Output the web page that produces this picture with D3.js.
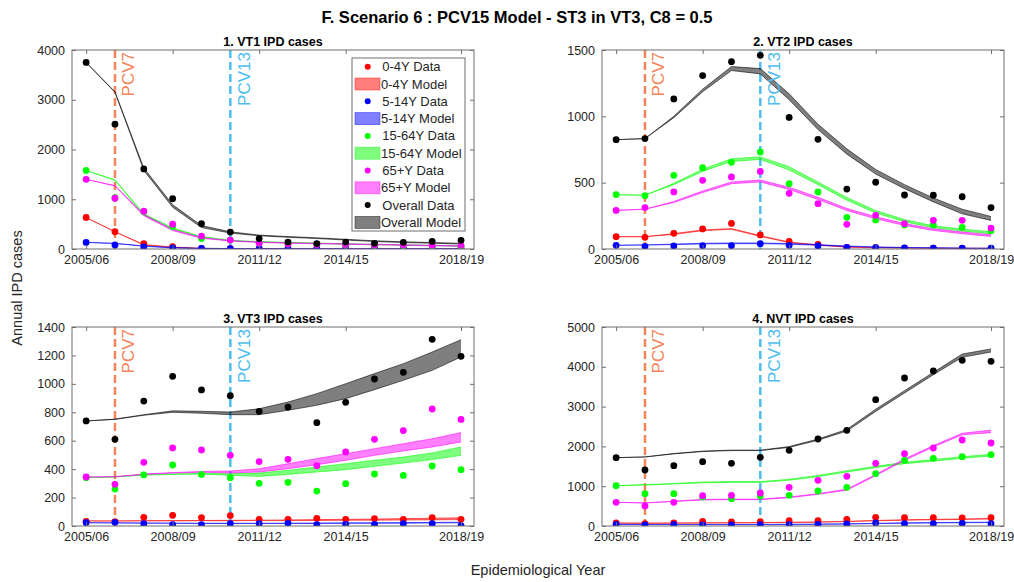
<!DOCTYPE html>
<html><head><meta charset="utf-8">
<script src="https://cdn.jsdelivr.net/npm/d3@7"></script>
<style>body{margin:0;background:#fff} text{font-family:"Liberation Sans",Arial,Helvetica,sans-serif}</style>
</head><body><svg id="c" width="1014" height="582"></svg>
<script>
// ---------- data ----------
const years = ["2005/06","2006/07","2007/08","2008/09","2009/10","2010/11","2011/12","2012/13","2013/14","2014/15","2015/16","2016/17","2017/18","2018/19"];
const xTickYears = ["2005/06","2008/09","2011/12","2014/15","2018/19"];
const panelTitles = ["1. VT1 IPD cases","2. VT2 IPD cases","3. VT3 IPD cases","4. NVT IPD cases"];
const yTicks1 = [0,1000,2000,3000,4000];
const yTicks2 = [0,500,1000,1500];
const yTicks3 = [0,200,400,600,800,1000,1200,1400];
const yTicks4 = [0,1000,2000,3000,4000,5000];
const vaccines = [{name:"PCV7", year:"2006/07"},{name:"PCV13", year:"2010/11"}];
const ageLabels = ["0-4Y","5-14Y","15-64Y","65+Y","Overall"];

// Panel 1: VT1
const vt1_d04   = [633,347,107,46,13,6,5,5,4,4,4,4,4,4];
const vt1_lo04  = [633,347,80,33,10,6,5,4,4,4,4,3,3,3];
const vt1_hi04  = [633,347,90,40,14,9,7,6,6,5,5,5,5,5];
const vt1_d514  = [133,80,40,20,13,6,5,5,5,5,5,5,5,5];
const vt1_lo514 = [133,110,55,22,10,6,5,5,4,4,4,4,4,4];
const vt1_hi514 = [133,115,62,28,14,9,7,7,6,6,6,6,6,6];
const vt1_d1564 = [1580,1030,750,450,210,180,120,100,90,80,70,65,60,55];
const vt1_lo1564= [1580,1380,680,400,235,165,140,125,110,95,85,75,65,55];
const vt1_hi1564= [1580,1390,710,425,250,175,150,135,120,105,95,85,75,65];
const vt1_d65   = [1400,1020,760,500,260,180,115,100,90,85,80,80,75,70];
const vt1_lo65  = [1400,1265,670,370,215,160,130,115,105,95,85,75,65,55];
const vt1_hi65  = [1400,1275,695,390,230,170,140,125,115,105,95,85,75,65];
const vt1_dAll  = [3750,2510,1610,1010,510,340,210,140,110,140,115,135,155,175];
const vt1_loAll = [3750,3150,1580,840,430,320,265,235,210,180,150,130,115,100];
const vt1_hiAll = [3750,3160,1630,890,470,345,280,250,225,195,165,145,130,115];

// Panel 2: VT2
const vt2_d04   = [93,88,118,151,193,106,58,35,13,10,7,6,5,5];
const vt2_lo04  = [93,93,110,138,148,95,48,28,14,9,7,5,4,4];
const vt2_hi04  = [93,93,116,144,154,101,53,32,17,12,9,7,6,6];
const vt2_d514  = [28,20,23,25,25,40,28,23,13,10,8,6,6,6];
const vt2_lo514 = [28,30,33,38,40,40,36,28,19,13,9,7,5,4];
const vt2_hi514 = [28,31,37,43,46,46,41,33,23,16,12,9,7,6];
const vt2_d1564 = [410,402,555,613,653,731,492,430,239,219,181,181,163,138];
const vt2_lo1564= [410,405,485,585,660,675,595,485,368,272,205,160,135,115];
const vt2_hi1564= [410,405,495,602,680,695,620,505,388,290,222,175,150,130];
const vt2_d65   = [291,312,430,518,543,585,420,342,186,254,191,216,216,158];
const vt2_lo65  = [291,300,350,425,492,505,448,373,290,228,178,140,115,95];
const vt2_hi65  = [291,300,358,437,505,520,465,390,306,243,192,153,128,108];
const vt2_dAll  = [824,832,1131,1307,1412,1460,992,827,452,503,407,405,394,312];
const vt2_loAll = [824,832,990,1185,1345,1320,1125,900,715,565,455,355,265,215];
const vt2_hiAll = [824,832,1000,1205,1375,1360,1170,940,755,600,485,385,300,245];

// Panel 3: VT3
const vt3_d04   = [33,30,61,75,59,73,47,47,54,47,52,47,59,47];
const vt3_lo04  = [35,35,36,36,37,37,38,38,39,40,41,42,43,45];
const vt3_hi04  = [36,36,37,38,39,40,41,43,45,47,49,52,55,58];
const vt3_d514  = [23,26,16,9,9,16,16,19,9,12,12,16,16,2];
const vt3_lo514 = [23,22,20,19,18,18,18,18,18,19,19,20,21,22];
const vt3_hi514 = [23,22,21,20,19,19,19,20,21,22,23,24,25,27];
const vt3_d1564 = [340,260,359,429,363,340,300,307,246,298,366,356,422,396];
const vt3_lo1564= [340,345,358,362,366,356,349,363,380,396,420,443,467,497];
const vt3_hi1564= [340,346,362,366,370,368,373,392,415,438,462,485,514,556];
const vt3_d65   = [345,293,448,549,535,497,453,469,424,521,610,671,823,750];
const vt3_lo65  = [345,346,362,372,378,373,380,403,431,462,497,528,556,591];
const vt3_hi65  = [345,347,366,376,384,387,403,438,474,509,544,579,614,657];
const vt3_dAll  = [739,610,879,1053,957,917,807,837,727,870,1034,1081,1313,1194];
const vt3_loAll = [739,750,779,800,793,783,783,814,849,896,959,1025,1095,1189];
const vt3_hiAll = [739,752,783,810,807,802,825,872,931,1001,1072,1142,1224,1311];

// Panel 4: NVT
const nvt_d04   = [75,59,75,117,101,109,134,134,168,218,209,209,201,209];
const nvt_lo04  = [72,70,72,75,78,80,88,95,110,130,145,155,165,175];
const nvt_hi04  = [76,74,76,80,83,86,94,102,118,140,157,168,178,190];
const nvt_d514  = [42,25,33,25,25,33,33,42,50,75,59,59,67,59];
const nvt_lo514 = [40,38,36,36,36,36,38,42,48,60,70,76,82,86];
const nvt_hi514 = [44,42,40,40,40,40,43,48,55,68,79,86,92,97];
const nvt_d1564 = [1013,812,812,729,687,754,771,879,972,1315,1650,1700,1742,1792];
const nvt_lo1564= [1013,1030,1055,1085,1095,1095,1150,1240,1355,1465,1565,1630,1700,1760];
const nvt_hi1564= [1013,1040,1070,1105,1115,1115,1175,1270,1390,1500,1600,1670,1740,1800];
const nvt_d65   = [595,503,595,762,771,829,972,1147,1248,1575,1817,1960,2161,2085];
const nvt_lo65  = [595,578,615,655,662,662,712,795,900,1265,1650,1985,2290,2345];
const nvt_hi65  = [595,580,625,668,676,676,728,812,925,1295,1685,2020,2330,2410];
const nvt_dAll  = [1717,1407,1516,1616,1574,1725,1901,2186,2404,3174,3719,3894,4162,4137];
const nvt_loAll = [1717,1734,1812,1870,1895,1895,1975,2155,2385,2880,3340,3800,4240,4370];
const nvt_hiAll = [1717,1736,1822,1882,1907,1907,1995,2185,2425,2935,3400,3860,4320,4450];

// ---------- setup ----------
const colors = ["#ff0000","#0000ff","#00ff00","#ff00ff","#000000"];
const vacColors = ["#f4845a","#4dbeee"];
const panels = [
  {title:panelTitles[0], ticks:yTicks1, data:[vt1_d04,vt1_d514,vt1_d1564,vt1_d65,vt1_dAll], lo:[vt1_lo04,vt1_lo514,vt1_lo1564,vt1_lo65,vt1_loAll], hi:[vt1_hi04,vt1_hi514,vt1_hi1564,vt1_hi65,vt1_hiAll], x:72, y:50, legend:true},
  {title:panelTitles[1], ticks:yTicks2, data:[vt2_d04,vt2_d514,vt2_d1564,vt2_d65,vt2_dAll], lo:[vt2_lo04,vt2_lo514,vt2_lo1564,vt2_lo65,vt2_loAll], hi:[vt2_hi04,vt2_hi514,vt2_hi1564,vt2_hi65,vt2_hiAll], x:602, y:50},
  {title:panelTitles[2], ticks:yTicks3, data:[vt3_d04,vt3_d514,vt3_d1564,vt3_d65,vt3_dAll], lo:[vt3_lo04,vt3_lo514,vt3_lo1564,vt3_lo65,vt3_loAll], hi:[vt3_hi04,vt3_hi514,vt3_hi1564,vt3_hi65,vt3_hiAll], x:72, y:327},
  {title:panelTitles[3], ticks:yTicks4, data:[nvt_d04,nvt_d514,nvt_d1564,nvt_d65,nvt_dAll], lo:[nvt_lo04,nvt_lo514,nvt_lo1564,nvt_lo65,nvt_loAll], hi:[nvt_hi04,nvt_hi514,nvt_hi1564,nvt_hi65,nvt_hiAll], x:602, y:327}
];
const W = 402, H = 199;
const svg = d3.select("#c");
const axisCol = "#6f6f6f", txtCol = "#262626";

svg.append("text").attr("x",517).attr("y",23).attr("text-anchor","middle")
  .attr("font-size","16.5px").attr("font-weight","bold").attr("fill","#000")
  .text("F. Scenario 6 : PCV15 Model - ST3 in VT3, C8 = 0.5");
svg.append("text").attr("transform","translate(22,288) rotate(-90)").attr("text-anchor","middle")
  .attr("font-size","14.5px").attr("fill",txtCol).text("Annual IPD cases");
svg.append("text").attr("x",538).attr("y",575).attr("text-anchor","middle")
  .attr("font-size","14.5px").attr("fill",txtCol).text("Epidemiological Year");

panels.forEach(p => {
  const g = svg.append("g").attr("transform",`translate(${p.x},${p.y})`);
  const xs = d3.scaleLinear().domain([-0.49,13.45]).range([0,W]);
  const xp = yr => xs(years.indexOf(yr));
  const ymax = p.ticks[p.ticks.length-1];
  const y = d3.scaleLinear().domain([0,ymax]).range([H,0]);

  g.append("defs").append("clipPath").attr("id","cp"+p.x+p.y).append("rect").attr("width",W).attr("height",H);
  const plot = g.append("g").attr("clip-path",`url(#cp${p.x}${p.y})`);

  vaccines.forEach((v,i) => {
    plot.append("line").attr("x1",xp(v.year)).attr("x2",xp(v.year)).attr("y1",0).attr("y2",H)
      .attr("stroke",vacColors[i]).attr("stroke-width",2.5).attr("stroke-dasharray","8,4");
  });

  const order = [0,1,2,3,4];
  order.forEach(s => {
    const pts = years.map((yr,i)=>({x:xp(yr), lo:p.lo[s][i], hi:p.hi[s][i]}));
    plot.append("path").datum(pts)
      .attr("d", d3.area().x(d=>d.x).y0(d=>y(d.lo)).y1(d=>y(d.hi)))
      .attr("fill",colors[s]).attr("fill-opacity",0.5).attr("stroke","none");
    ["lo","hi"].forEach(k => {
      plot.append("path").datum(pts)
        .attr("d", d3.line().x(d=>d.x).y(d=>y(d[k])))
        .attr("fill","none").attr("stroke",colors[s]).attr("stroke-width",0.7).attr("stroke-opacity",0.8);
    });
  });
  order.forEach(s => {
    plot.selectAll(null).data(p.data[s]).enter().append("circle")
      .attr("cx",(d,i)=>xp(years[i])).attr("cy",d=>y(d)).attr("r",3.4).attr("fill",colors[s]);
  });

  vaccines.forEach((v,i) => {
    g.append("text").attr("transform",`translate(${xp(v.year)+14},2) rotate(-90)`)
      .attr("text-anchor","end").attr("dominant-baseline","central")
      .attr("font-size","17px").attr("fill",vacColors[i]).text(v.name);
  });

  const tv = xTickYears.map(t=>years.indexOf(t));
  const ax = d3.axisBottom(xs).tickValues(tv).tickFormat(i=>years[i]).tickSizeInner(-4).tickSizeOuter(0).tickPadding(6);
  const gx = g.append("g").attr("transform",`translate(0,${H})`).call(ax);
  const gxt = g.append("g").call(d3.axisTop(xs).tickValues(tv).tickFormat("").tickSizeInner(-4).tickSizeOuter(0));
  const gy = g.append("g").call(d3.axisLeft(y).tickValues(p.ticks).tickFormat(d3.format("d")).tickSizeInner(-4).tickSizeOuter(0).tickPadding(7));
  const gyr = g.append("g").attr("transform",`translate(${W},0)`).call(d3.axisRight(y).tickValues(p.ticks).tickFormat("").tickSizeInner(-4).tickSizeOuter(0));
  [gx,gxt,gy,gyr].forEach(a => {
    a.select(".domain").remove();
    a.selectAll("line").attr("stroke",axisCol);
    a.selectAll("text").attr("fill",txtCol).attr("font-size","12.5px").attr("font-family",'"Liberation Sans",Arial,sans-serif');
  });
  g.append("rect").attr("width",W).attr("height",H).attr("fill","none").attr("stroke",axisCol).attr("stroke-width",1);

  g.append("text").attr("x",W/2).attr("y",-4).attr("text-anchor","middle")
    .attr("font-size","12.5px").attr("font-weight","bold").attr("fill","#000").text(p.title);

  if (p.legend) {
    const lg = g.append("g").attr("transform",`translate(${352-p.x},${58-p.y})`);
    lg.append("rect").attr("width",113).attr("height",173).attr("fill","#fff").attr("stroke",axisCol).attr("stroke-width",1);
    const rows = [];
    ageLabels.forEach((a,s) => { rows.push({t:a+" Data", s, kind:"d"}); rows.push({t:a+" Model", s, kind:"m"}); });
    rows.forEach((r,i) => {
      const cy = 8.7 + i*17.3;
      if (r.kind==="d") {
        lg.append("circle").attr("cx",15.7).attr("cy",cy).attr("r",3).attr("fill",colors[r.s]);
        lg.append("text").attr("x",30.3).attr("y",cy).attr("dominant-baseline","central")
          .attr("font-size","13px").attr("fill",txtCol).text(r.t);
      } else {
        lg.append("rect").attr("x",3).attr("y",cy-6).attr("width",25).attr("height",12)
          .attr("fill",colors[r.s]).attr("fill-opacity",0.5).attr("stroke",colors[r.s]).attr("stroke-opacity",0.5).attr("stroke-width",0.8);
        lg.append("text").attr("x",29).attr("y",cy).attr("dominant-baseline","central")
          .attr("font-size","13px").attr("fill",txtCol).text(r.t);
      }
    });
  }
});
</script></body></html>
